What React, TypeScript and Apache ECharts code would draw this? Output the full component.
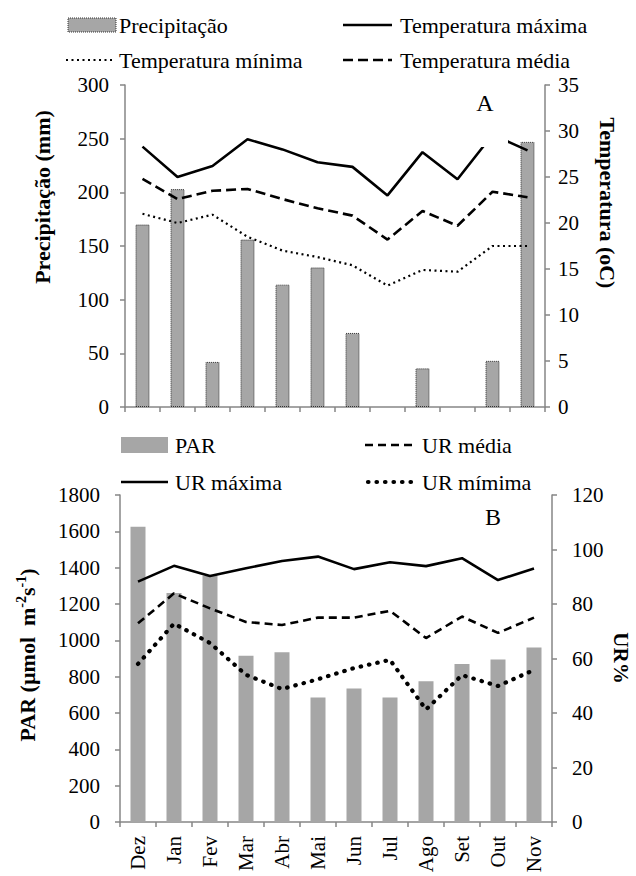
import React, { useEffect, useRef } from "react";
import * as echarts from "echarts";

const months = ["Dez", "Jan", "Fev", "Mar", "Abr", "Mai", "Jun", "Jul", "Ago", "Set", "Out", "Nov"];

// Panel A
const precipitacao = [170, 203, 42, 156, 114, 130, 69, 0, 36, 0, 43, 247];
const tempMaxima = [28.3, 25.0, 26.2, 29.1, 28.0, 26.6, 26.1, 23.0, 27.7, 24.75, 29.6, 27.9];
const tempMedia = [24.8, 22.6, 23.5, 23.7, 22.6, 21.6, 20.8, 18.2, 21.3, 19.7, 23.4, 22.8];
const tempMinima = [21.0, 20.0, 20.9, 18.5, 17.0, 16.3, 15.4, 13.2, 14.9, 14.7, 17.5, 17.5];

// Panel B
const par = [1625, 1260, 1355, 915, 935, 685, 735, 685, 775, 870, 895, 960];
const urMaxima = [88.2, 94.0, 90.3, 93.1, 95.8, 97.4, 92.8, 95.3, 93.9, 96.8, 88.8, 93.0];
const urMedia = [72.9, 83.9, 78.4, 73.4, 72.3, 75.0, 75.0, 77.5, 67.5, 75.4, 69.4, 75.0];
const urMinima = [58.0, 72.8, 65.7, 54.0, 48.8, 52.4, 56.5, 59.5, 41.3, 53.9, 49.9, 55.8];

const FONT = "Liberation Serif, Times New Roman, serif";
const AXIS_COLOR = "#868686";
const BAR_COLOR = "#a6a6a6";

export default function App() {
  const ref = useRef<HTMLDivElement>(null);

  useEffect(() => {
    if (!ref.current) return;
    const chart = echarts.init(ref.current, undefined, { renderer: "svg" });

    const axisLine = { show: true, lineStyle: { color: AXIS_COLOR, width: 1.5 } };
    const axisTick = { show: true, length: 5, lineStyle: { color: AXIS_COLOR, width: 1.5 } };
    const label = (margin: number) => ({
      color: "#000",
      fontFamily: FONT,
      fontSize: 21,
      margin,
      formatter: (v: any) => String(v),
    });

    const legText = (x: number, y: number, text: string) => ({
      type: "text",
      x,
      y,
      style: { text, fontFamily: FONT, fontSize: 22, fill: "#000", textVerticalAlign: "middle" },
    });
    const legLine = (x1: number, x2: number, y: number, dash: any, width: number, cap: string = "butt") => ({
      type: "line",
      shape: { x1, y1: y, x2, y2: y },
      style: { stroke: "#000", lineWidth: width, lineDash: dash, lineCap: cap },
    });

    const precipData = precipitacao.map((v) =>
      v === 0 ? { value: v, itemStyle: { borderWidth: 0 } } : v
    );

    const option: any = {
      animation: false,
      backgroundColor: "#fff",
      textStyle: { fontFamily: FONT },
      grid: [
        { left: 125, right: 636 - 545, top: 85, height: 322, containLabel: false },
        { left: 120, right: 636 - 552, top: 495, height: 327, containLabel: false },
      ],
      xAxis: [
        {
          type: "category",
          gridIndex: 0,
          data: months,
          axisLine,
          axisTick: { show: true, length: 5, lineStyle: { color: AXIS_COLOR, width: 1.5 } },
          axisLabel: { show: false },
          splitLine: { show: false },
        },
        {
          type: "category",
          gridIndex: 1,
          data: months,
          axisLine,
          axisTick: { show: true, length: 5, lineStyle: { color: AXIS_COLOR, width: 1.5 } },
          axisLabel: { color: "#000", fontFamily: FONT, fontSize: 21, margin: 14, rotate: 90, interval: 0 },
          splitLine: { show: false },
        },
      ],
      yAxis: [
        {
          type: "value",
          gridIndex: 0,
          position: "left",
          min: 0,
          max: 300,
          interval: 50,
          axisLine,
          axisTick,
          axisLabel: label(16),
          splitLine: { show: false },
        },
        {
          type: "value",
          gridIndex: 0,
          position: "right",
          min: 0,
          max: 35,
          interval: 5,
          axisLine,
          axisTick,
          axisLabel: label(13),
          splitLine: { show: false },
        },
        {
          type: "value",
          gridIndex: 1,
          position: "left",
          min: 0,
          max: 1800,
          interval: 200,
          axisLine,
          axisTick,
          axisLabel: label(20),
          splitLine: { show: false },
        },
        {
          type: "value",
          gridIndex: 1,
          position: "right",
          min: 0,
          max: 120,
          interval: 20,
          axisLine,
          axisTick,
          axisLabel: label(20),
          splitLine: { show: false },
        },
      ],
      series: [
        {
          name: "Precipitação",
          type: "bar",
          xAxisIndex: 0,
          yAxisIndex: 0,
          data: precipData,
          barWidth: 14,
          itemStyle: { color: BAR_COLOR, borderColor: "#333", borderWidth: 1, borderType: [1, 1] },
          z: 2,
        },
        {
          name: "Temperatura máxima",
          type: "line",
          xAxisIndex: 0,
          yAxisIndex: 1,
          data: tempMaxima,
          symbol: "none",
          lineStyle: { color: "#000", width: 2.6 },
          z: 3,
        },
        {
          name: "Temperatura média",
          type: "line",
          xAxisIndex: 0,
          yAxisIndex: 1,
          data: tempMedia,
          symbol: "none",
          lineStyle: { color: "#000", width: 2.6, type: [10, 5] },
          z: 3,
        },
        {
          name: "Temperatura mínima",
          type: "line",
          xAxisIndex: 0,
          yAxisIndex: 1,
          data: tempMinima,
          symbol: "none",
          lineStyle: { color: "#000", width: 2.2, type: [2, 3.5] },
          z: 3,
        },
        {
          name: "PAR",
          type: "bar",
          xAxisIndex: 1,
          yAxisIndex: 2,
          data: par,
          barWidth: 15,
          itemStyle: { color: BAR_COLOR },
          z: 2,
        },
        {
          name: "UR máxima",
          type: "line",
          xAxisIndex: 1,
          yAxisIndex: 3,
          data: urMaxima,
          symbol: "none",
          lineStyle: { color: "#000", width: 2.6 },
          z: 3,
        },
        {
          name: "UR média",
          type: "line",
          xAxisIndex: 1,
          yAxisIndex: 3,
          data: urMedia,
          symbol: "none",
          lineStyle: { color: "#000", width: 2.6, type: [8, 5] },
          z: 3,
        },
        {
          name: "UR mímima",
          type: "line",
          xAxisIndex: 1,
          yAxisIndex: 3,
          data: urMinima,
          symbol: "none",
          lineStyle: { color: "#000", width: 4.2, type: [0.5, 8], cap: "round" },
          z: 3,
        },
      ],
      graphic: [
        // Legend A
        {
          type: "rect",
          shape: { x: 68, y: 18, width: 48, height: 14 },
          style: { fill: BAR_COLOR, stroke: "#333", lineWidth: 1, lineDash: [1, 1] },
        },
        legText(119, 25, "Precipitação"),
        legLine(343, 392, 25, null, 2.6),
        legText(400, 25, "Temperatura máxima"),
        legLine(66, 115, 60, [2, 3.5], 2.2),
        legText(119, 60, "Temperatura mínima"),
        legLine(343, 392, 60, [10, 5], 2.6),
        legText(400, 60, "Temperatura média"),
        // Legend B
        {
          type: "rect",
          shape: { x: 121, y: 437, width: 47, height: 16 },
          style: { fill: BAR_COLOR },
        },
        legText(175, 445, "PAR"),
        legLine(365, 414, 445, [8, 5], 2.6),
        legText(422, 445, "UR média"),
        legLine(121, 168, 482, null, 2.6),
        legText(175, 482, "UR máxima"),
        legLine(368, 414, 482, [0.5, 8], 4.2, "round"),
        legText(422, 482, "UR mímima"),
        // white label box of panel A
        {
          type: "rect",
          z: 50,
          shape: { x: 470, y: 88, width: 38, height: 59 },
          style: { fill: "#fff" },
        },
        {
          type: "text",
          z: 51,
          x: 485,
          y: 103,
          style: { text: "A", fontFamily: FONT, fontSize: 24, fill: "#000", textAlign: "center", textVerticalAlign: "middle" },
        },
        {
          type: "text",
          z: 51,
          x: 493,
          y: 517,
          style: { text: "B", fontFamily: FONT, fontSize: 24, fill: "#000", textAlign: "center", textVerticalAlign: "middle" },
        },
        // axis titles
        {
          type: "text",
          x: 42,
          y: 197,
          rotation: Math.PI / 2,
          style: {
            text: "Precipitação (mm)",
            fontFamily: FONT,
            fontSize: 22,
            fontWeight: "bold",
            fill: "#000",
            textAlign: "center",
            textVerticalAlign: "middle",
          },
        },
        {
          type: "text",
          x: 607,
          y: 203,
          rotation: -Math.PI / 2,
          style: {
            text: "Temperatura (oC)",
            fontFamily: FONT,
            fontSize: 22,
            fontWeight: "bold",
            fill: "#000",
            textAlign: "center",
            textVerticalAlign: "middle",
          },
        },
        {
          type: "text",
          x: 27,
          y: 655,
          rotation: Math.PI / 2,
          style: {
            text: "{b|PAR (µmol  m}{s|-2}{b|s}{s|-1}{b|)}",
            fill: "#000",
            textAlign: "center",
            textVerticalAlign: "middle",
            rich: {
              b: { fontFamily: FONT, fontSize: 22, fontWeight: "bold", fill: "#000", lineHeight: 26 },
              s: { fontFamily: FONT, fontSize: 14, fontWeight: "bold", fill: "#000", verticalAlign: "top", lineHeight: 14 },
            },
          },
        },
        {
          type: "text",
          x: 621,
          y: 658,
          rotation: -Math.PI / 2,
          style: {
            text: "UR%",
            fontFamily: FONT,
            fontSize: 21,
            fontWeight: "bold",
            fill: "#000",
            textAlign: "center",
            textVerticalAlign: "middle",
          },
        },
      ],
    };

    chart.setOption(option);
    return () => chart.dispose();
  }, []);

  return (
    <div
      ref={ref}
      style={{ position: "fixed", left: 0, top: 0, width: 636, height: 876, background: "#fff" }}
    />
  );
}
